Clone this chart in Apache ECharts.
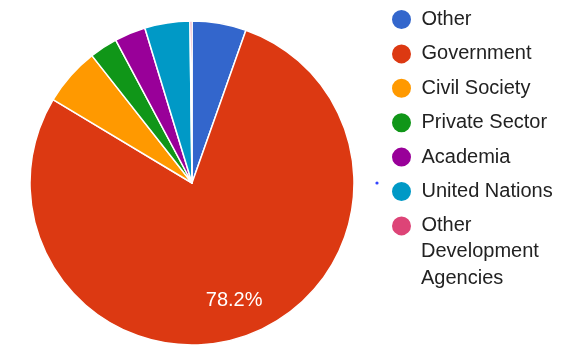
<!DOCTYPE html>
<html>
<head>
<meta charset="utf-8">
<script src="https://cdn.jsdelivr.net/npm/echarts@6/dist/echarts.min.js"></script>
<style>
  html, body { margin: 0; padding: 0; background: #fff; }
  #chart { width: 569px; height: 346px; }
</style>
</head>
<body>
<div id="chart"></div>
<script>
// 数据（从图中估读，单位 %）
const categories = ['Other', 'Government', 'Civil Society', 'Private Sector', 'Academia', 'United Nations', 'Other Development Agencies'];
const shares = [5.4, 78.2, 5.8, 2.8, 3.1, 4.5, 0.2];
const colors = ['#3366cc', '#dc3912', '#ff9900', '#109618', '#990099', '#0099c6', '#dd4477'];
const labelled = ['Government'];

const center = [192, 183];
const radius = 162;
const fontFamily = 'Liberation Sans, Arial, sans-serif';

const pieData = categories.map((name, i) => ({
  name,
  value: shares[i],
  itemStyle: { color: colors[i] }
}));

// 最后一项图例折行显示：图例只写第一行，其余两行另外放
const wrapName = 'Other Development Agencies';
const wrapRest = 'Development\nAgencies';

const chart = echarts.init(document.getElementById('chart'));

chart.setOption({
  animation: false,
  legend: {
    orient: 'vertical',
    left: 390,
    top: 8,
    height: 600,
    padding: 0,
    itemWidth: 30,
    itemHeight: 21,
    itemGap: 11.4,
    icon: 'circle',
    selectedMode: false,
    textStyle: { fontFamily, fontSize: 20, color: '#222' },
    data: categories,
    formatter: name => name === wrapName ? 'Other' : name
  },
  series: [
    {
      type: 'pie',
      center,
      radius: [0, radius],
      startAngle: 90,
      clockwise: true,
      avoidLabelOverlap: false,
      label: { show: false },
      labelLine: { show: false },
      itemStyle: { borderColor: '#fff', borderWidth: 1.5 },
      emphasis: { disabled: true },
      data: pieData
    },
    {
      // 只用来放百分比标签
      type: 'pie',
      center,
      radius: [radius / 2, radius],
      startAngle: 90,
      clockwise: true,
      silent: true,
      avoidLabelOverlap: false,
      itemStyle: { color: 'transparent' },
      labelLine: { show: false },
      emphasis: { disabled: true },
      data: categories.map((name, i) => ({
        name,
        value: shares[i],
        label: {
          show: labelled.includes(name),
          position: 'inside',
          formatter: p => p.value.toFixed(1) + '%',
          color: '#fff',
          fontFamily,
          fontSize: 20
        }
      }))
    }
  ],
  graphic: [
    {
      type: 'text',
      silent: true,
      style: {
        text: wrapRest,
        x: 421,
        y: 265,
        verticalAlign: 'middle',
        lineHeight: 27,
        fontFamily,
        fontSize: 20,
        fill: '#222'
      }
    },
    { type: 'circle', shape: { cx: 377, cy: 183, r: 1.6 }, style: { fill: '#3344ff' }, silent: true }
  ]
});
</script>
</body>
</html>
